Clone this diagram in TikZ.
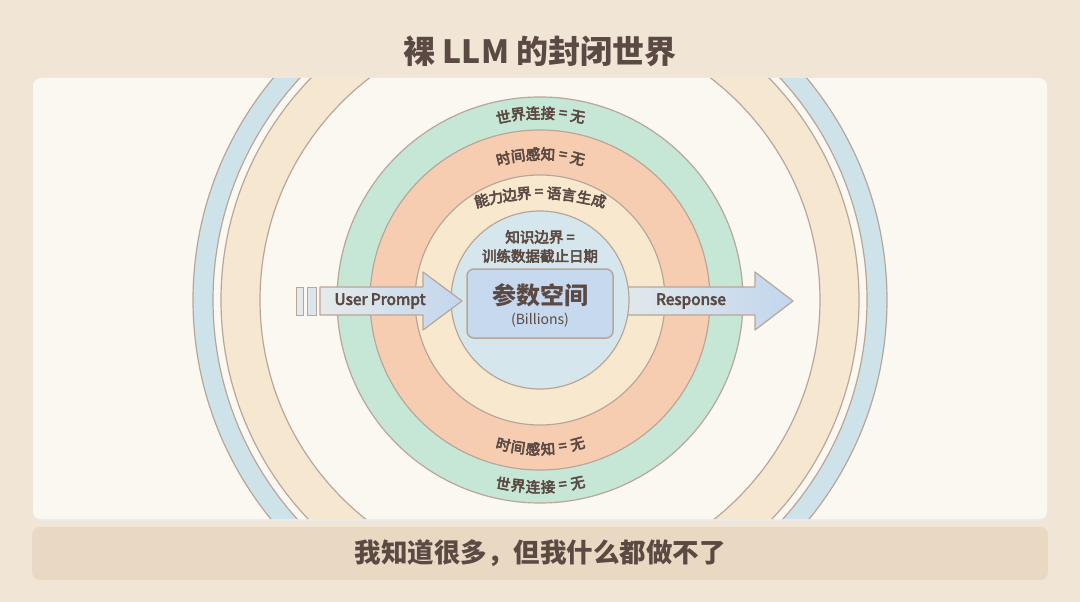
\documentclass[tikz,border=0pt]{standalone}
\usepackage{fontspec}
\setmainfont{Noto Sans CJK SC}
\newfontfamily\labfont{Noto Sans CJK SC}[RawFeature={embolden=4}]
\usetikzlibrary{calc}
\definecolor{bg}{HTML}{F1E6D6}
\definecolor{panel}{HTML}{FBF7F1}
\definecolor{bar}{HTML}{EAD9C2}
\definecolor{ink}{HTML}{5B4A43}
\definecolor{rs}{HTML}{B9A699}
\definecolor{bluering}{HTML}{CEE2EA}
\definecolor{tanring}{HTML}{F6E7D1}
\definecolor{greenring}{HTML}{C6E7D6}
\definecolor{orangering}{HTML}{F6CDB1}
\definecolor{creamring}{HTML}{F8E8CE}
\definecolor{innerblue}{HTML}{D5E7EC}
\definecolor{boxblue}{HTML}{C6D9EF}
\definecolor{arrL}{HTML}{E5EBEA}
\definecolor{arrR}{HTML}{C3D6EE}
\tikzset{
  ring/.style={draw=rs, line width=1.2pt},
  lab/.style={font=\labfont\fontsize{14.5}{16}\selectfont, text=ink, inner sep=-1.5pt},
  arclab/.style={lab, inner sep=-2.6pt},
  arrowbody/.style={left color=arrL, right color=arrR, draw=rs, line width=1.2pt, line join=round},
}
\begin{document}
\begin{tikzpicture}[x=1pt,y=-1pt]
\useasboundingbox (0,0) rectangle (1080,602);
\fill[bg] (0,0) rectangle (1080,602);
% panel shadow and panel
\fill[black!8, rounded corners=8] (33,80) rectangle (1047,521);
\fill[panel, rounded corners=8] (33,78) rectangle (1047,519);
% bottom bar
\fill[bar, rounded corners=8] (32,527) rectangle (1048,580);
% outer rings clipped to panel
\begin{scope}
  \clip[rounded corners=8] (33,78) rectangle (1047,519);
  \path[ring, fill=bluering, even odd rule] (540,300) circle (347) (540,300) circle (327);
  \path[ring, fill=tanring, even odd rule] (540,300) circle (319) (540,300) circle (280);
\end{scope}
% inner discs
\path[ring, fill=greenring] (540,300) circle (203);
\path[ring, fill=orangering] (540,300) circle (170);
\path[ring, fill=creamring] (540,300) circle (125);
% response arrow (under inner disc)
\path[arrowbody] (600,287) -- (755,287) -- (755,272) -- (793,301) -- (755,330) -- (755,315) -- (600,315) -- cycle;
\path[ring, fill=innerblue] (540,300) circle (89);
% user prompt arrow
\path[draw=rs, line width=1pt, fill=arrL] (296,287) rectangle (303,315);
\path[draw=rs, line width=1pt, fill=arrL!70!arrR] (307,287) rectangle (316,315);
\path[arrowbody] (320,287) -- (423,287) -- (423,272) -- (462,301) -- (423,330) -- (423,315) -- (320,315) -- cycle;
% center box
\node[draw=rs, line width=1.5pt, fill=boxblue, rounded corners=7, minimum width=146pt, minimum height=69pt, inner sep=0pt] (box) at (540,303.5) {};
\node[font=\bfseries\fontsize{24}{26}\selectfont, text=ink, inner sep=0pt] (param) at (540,295) {参数空间};
\node[font=\fontsize{14}{15}\selectfont, text=ink, inner sep=0pt] (bill) at (540,320) {(Billions)};
% arrow labels
\node[lab, font=\labfont\fontsize{15.5}{17}\selectfont] (up) at (380,301) {User Prompt};
\node[lab, font=\labfont\fontsize{15.5}{17}\selectfont] (resp) at (691,301) {Response};
% knowledge label
\node[lab] (kb1) at (540,237) {知识边界 =};
\node[lab] (kb2) at (540,256) {训练数据截止日期};
% top arc labels
\foreach \c/\s [count=\i] in {世/-37,界/-22,连/-7,接/8,=/23,无/38} {
  \pgfmathsetmacro\a{\s/187*57.2958}
  \node[arclab, rotate=-\a] (wt\i) at ({540+187*sin(\a)},{300-187*cos(\a)}) {\c};
}
\foreach \c/\s [count=\i] in {时/-37,间/-22,感/-7,知/8,=/23,无/38} {
  \pgfmathsetmacro\a{\s/146*57.2958}
  \node[arclab, rotate=-\a] (tt\i) at ({540+146*sin(\a)},{300-146*cos(\a)}) {\c};
}
\foreach \c/\s [count=\i] in {能/-59,力/-44.5,边/-30.5,界/-16,=/-1,语/14,言/29,生/44.5,成/59.5} {
  \pgfmathsetmacro\a{\s/230*57.2958}
  \node[arclab, rotate=-\a] (ab\i) at ({540+230*sin(\a)},{423-230*cos(\a)}) {\c};
}
% bottom arc labels
\foreach \c/\s [count=\i] in {时/-37,间/-22,感/-7,知/8,=/23,无/38} {
  \pgfmathsetmacro\a{\s/149*57.2958}
  \node[arclab, rotate=\a] (tb\i) at ({540+149*sin(\a)},{300+149*cos(\a)}) {\c};
}
\foreach \c/\s [count=\i] in {世/-37,界/-22,连/-7,接/8,=/23,无/38} {
  \pgfmathsetmacro\a{\s/187*57.2958}
  \node[arclab, rotate=\a] (wb\i) at ({540+187*sin(\a)},{300+187*cos(\a)}) {\c};
}
% title and footer
\node[font=\bfseries\fontsize{32}{35}\selectfont, text=ink, inner sep=0pt] (title) at (540,51) {裸 LLM 的封闭世界};
\node[font=\bfseries\fontsize{26.5}{29}\selectfont, text=ink, inner sep=0pt] (foot) at (540,553) {我知道很多，但我什么都做不了};
\end{tikzpicture}
\end{document}
